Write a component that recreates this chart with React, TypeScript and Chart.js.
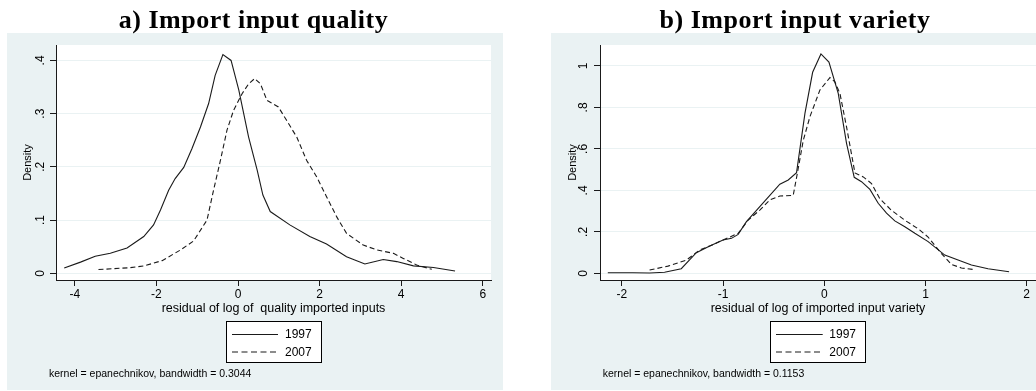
import React, { useEffect, useRef } from "react";
import { Chart, registerables } from "chart.js";

Chart.register(...registerables);

// ---------- data: panel a) import input quality ----------
const qualityX1997 = [-4.26, -3.86, -3.5, -3.13, -2.72, -2.31, -2.07, -1.9, -1.7, -1.54, -1.33, -1.13, -0.92, -0.72, -0.56, -0.37, -0.17, 0.02, 0.26, 0.47, 0.61, 0.79, 1.27, 1.76, 2.17, 2.66, 3.11, 3.56, 3.89, 4.3, 4.79, 5.32];
const qualityY1997 = [0.01, 0.021, 0.032, 0.0375, 0.0475, 0.069, 0.091, 0.119, 0.156, 0.178, 0.199, 0.234, 0.275, 0.319, 0.372, 0.411, 0.4, 0.344, 0.256, 0.194, 0.147, 0.116, 0.091, 0.069, 0.055, 0.031, 0.0175, 0.026, 0.022, 0.014, 0.011, 0.0044];
const qualityX2007 = [-3.42, -2.64, -2.31, -1.86, -1.41, -1.09, -0.76, -0.6, -0.43, -0.27, -0.11, 0.1, 0.26, 0.41, 0.55, 0.71, 0.99, 1.19, 1.44, 1.68, 1.93, 2.17, 2.42, 2.66, 3.07, 3.4, 3.81, 4.05, 4.38, 4.75];
const qualityY2007 = [0.007, 0.0106, 0.0138, 0.0238, 0.0438, 0.0606, 0.1, 0.156, 0.2125, 0.269, 0.306, 0.3375, 0.356, 0.366, 0.356, 0.325, 0.3125, 0.2875, 0.256, 0.2125, 0.181, 0.144, 0.106, 0.075, 0.053, 0.044, 0.0375, 0.028, 0.0156, 0.0075];
const qualityXTicks = [-4, -2, 0, 2, 4, 6];
const qualityXTickLabels = ["-4", "-2", "0", "2", "4", "6"];
const qualityYTicks = [0, 0.1, 0.2, 0.3, 0.4];
const qualityYTickLabels = ["0", ".1", ".2", ".3", ".4"];

// ---------- data: panel b) import input variety ----------
const varietyX1997 = [-2.139, -1.891, -1.726, -1.578, -1.413, -1.264, -1.132, -1.0, -0.917, -0.851, -0.769, -0.604, -0.439, -0.356, -0.274, -0.191, -0.115, -0.033, 0.046, 0.138, 0.22, 0.296, 0.368, 0.451, 0.533, 0.615, 0.697, 0.796, 0.895, 1.026, 1.191, 1.322, 1.454, 1.618, 1.826];
const varietyY1997 = [0.003, 0.003, 0.0016, 0.005, 0.0225, 0.0997, 0.1318, 0.1608, 0.1688, 0.1881, 0.2492, 0.34, 0.43, 0.45, 0.4855, 0.7717, 0.9695, 1.058, 1.019, 0.868, 0.627, 0.463, 0.442, 0.405, 0.338, 0.29, 0.253, 0.225, 0.193, 0.153, 0.088, 0.064, 0.04, 0.0225, 0.008];
const varietyX2007 = [-1.726, -1.545, -1.363, -1.231, -1.132, -1.0, -0.851, -0.752, -0.637, -0.538, -0.439, -0.307, -0.267, -0.208, -0.142, -0.043, 0.056, 0.105, 0.155, 0.22, 0.303, 0.385, 0.467, 0.549, 0.664, 0.796, 0.928, 1.026, 1.158, 1.257, 1.355, 1.47];
const varietyY2007 = [0.016, 0.035, 0.064, 0.1125, 0.1318, 0.1608, 0.193, 0.257, 0.305, 0.354, 0.373, 0.376, 0.48, 0.64, 0.755, 0.884, 0.944, 0.923, 0.867, 0.706, 0.484, 0.465, 0.433, 0.36, 0.304, 0.256, 0.215, 0.175, 0.095, 0.043, 0.026, 0.019];
const varietyXTicks = [-2, -1, 0, 1, 2];
const varietyXTickLabels = ["-2", "-1", "0", "1", "2"];
const varietyYTicks = [0, 0.2, 0.4, 0.6, 0.8, 1];
const varietyYTickLabels = ["0", ".2", ".4", ".6", ".8", "1"];

const seriesLabels = ["1997", "2007"];

const SANS = '"Liberation Sans", Arial, Helvetica, sans-serif';
const SERIF = '"Liberation Serif", "Times New Roman", serif';
const BG = "#eaf2f3";
const INK = "#1a1a1a";

type PanelCfg = {
  canvasLeft: number;
  title: string;
  titleX: number;
  xTitle: string;
  note: string;
  noteX: number;
  bg: [number, number, number, number];
  padRight: number;
  yWidth: number;
  yTickPad: number;
  yTitlePad: number;
  xMin: number;
  xMax: number;
  yMin: number;
  yMax: number;
  xTicks: number[];
  xTickLabels: string[];
  yTicks: number[];
  yTickLabels: string[];
  s1x: number[];
  s1y: number[];
  s2x: number[];
  s2y: number[];
  legend: { x: number; y: number; w: number; h: number; l0: number; l1: number; tx: number; r1: number; r2: number };
};

const panels: PanelCfg[] = [
  {
    canvasLeft: 0,
    title: "a) Import input quality",
    titleX: 253.5,
    xTitle: "residual of log of  quality imported inputs",
    note: "kernel = epanechnikov, bandwidth = 0.3044",
    noteX: 49,
    bg: [7, 33, 496, 357],
    padRight: 27,
    yWidth: 56,
    yTickPad: 4,
    yTitlePad: 21.4,
    xMin: -4.461,
    xMax: 6.201,
    yMin: -0.0126,
    yMax: 0.429,
    xTicks: qualityXTicks,
    xTickLabels: qualityXTickLabels,
    yTicks: qualityYTicks,
    yTickLabels: qualityYTickLabels,
    s1x: qualityX1997,
    s1y: qualityY1997,
    s2x: qualityX2007,
    s2y: qualityY2007,
    legend: { x: 226.5, y: 321.5, w: 95, h: 41, l0: 232, l1: 278, tx: 285, r1: 334.5, r2: 352 },
  },
  {
    canvasLeft: 518,
    title: "b) Import input variety",
    titleX: 277,
    xTitle: "residual of log of imported input variety",
    note: "kernel = epanechnikov, bandwidth = 0.1153",
    noteX: 84.7,
    bg: [33, 33, 485, 357],
    padRight: 0,
    yWidth: 82,
    yTickPad: 5.5,
    yTitlePad: 48.1,
    xMin: -2.216,
    xMax: 2.092,
    yMin: -0.032,
    yMax: 1.101,
    xTicks: varietyXTicks,
    xTickLabels: varietyXTickLabels,
    yTicks: varietyYTicks,
    yTickLabels: varietyYTickLabels,
    s1x: varietyX1997,
    s1y: varietyY1997,
    s2x: varietyX2007,
    s2y: varietyY2007,
    legend: { x: 252.5, y: 321.5, w: 95, h: 41, l0: 258, l1: 304.7, tx: 311.3, r1: 334.5, r2: 352 },
  },
];

const W = 518;
const H = 391;

function Panel({ cfg }: { cfg: PanelCfg }) {
  const ref = useRef<HTMLCanvasElement | null>(null);

  useEffect(() => {
    if (!ref.current) return;
    const decor = {
      id: "stataDecor",
      beforeDraw(chart: any) {
        const { ctx, chartArea } = chart;
        ctx.save();
        ctx.fillStyle = "#ffffff";
        ctx.fillRect(0, 0, chart.width, chart.height);
        ctx.fillStyle = BG;
        ctx.fillRect(cfg.bg[0], cfg.bg[1], cfg.bg[2], cfg.bg[3]);
        ctx.fillStyle = "#ffffff";
        ctx.fillRect(chartArea.left, chartArea.top, chartArea.right - chartArea.left, chartArea.bottom - chartArea.top);
        ctx.restore();
      },
      afterDraw(chart: any) {
        const { ctx } = chart;
        ctx.save();
        // title
        ctx.fillStyle = "#000";
        ctx.font = `bold 26px ${SERIF}`;
        try { (ctx as any).letterSpacing = "0.5px"; } catch (e) {}
        ctx.textAlign = "center";
        ctx.textBaseline = "alphabetic";
        ctx.fillText(cfg.title, cfg.titleX, 27.5);
        try { (ctx as any).letterSpacing = "0px"; } catch (e) {}
        // legend
        const L = cfg.legend;
        ctx.strokeStyle = "#000";
        ctx.lineWidth = 1;
        ctx.setLineDash([]);
        ctx.fillStyle = "#fff";
        ctx.fillRect(L.x, L.y, L.w, L.h);
        ctx.strokeRect(L.x, L.y, L.w, L.h);
        const rows = [L.r1, L.r2];
        chart.data.datasets.forEach((ds: any, i: number) => {
          ctx.strokeStyle = ds.borderColor;
          ctx.lineWidth = ds.borderWidth;
          ctx.setLineDash(ds.borderDash && ds.borderDash.length ? [6, 3.5] : []);
          ctx.beginPath();
          ctx.moveTo(L.l0, rows[i]);
          ctx.lineTo(L.l1, rows[i]);
          ctx.stroke();
          ctx.setLineDash([]);
          ctx.fillStyle = "#000";
          ctx.font = `12px ${SANS}`;
          ctx.textAlign = "left";
          ctx.textBaseline = "middle";
          ctx.fillText(ds.label, L.tx, rows[i] + 0.5);
        });
        // note
        ctx.fillStyle = "#000";
        ctx.font = `10.5px ${SANS}`;
        ctx.textAlign = "left";
        ctx.textBaseline = "middle";
        ctx.fillText(cfg.note, cfg.noteX, 374);
        ctx.restore();
      },
    };

    const chart = new Chart(ref.current, {
      type: "line",
      data: {
        datasets: [
          {
            label: seriesLabels[0],
            data: cfg.s1x.map((x, i) => ({ x, y: cfg.s1y[i] })),
            borderColor: INK,
            borderWidth: 1.1,
            pointRadius: 0,
            tension: 0,
            fill: false,
          },
          {
            label: seriesLabels[1],
            data: cfg.s2x.map((x, i) => ({ x, y: cfg.s2y[i] })),
            borderColor: INK,
            borderWidth: 1.1,
            borderDash: [5, 3],
            pointRadius: 0,
            tension: 0,
            fill: false,
          },
        ],
      },
      options: {
        responsive: false,
        animation: false,
        devicePixelRatio: 1,
        layout: { padding: { top: 45, right: cfg.padRight, bottom: 75, left: 0 } },
        plugins: {
          legend: { display: false },
          title: { display: false },
          tooltip: { enabled: false },
        },
        scales: {
          x: {
            type: "linear",
            min: cfg.xMin,
            max: cfg.xMax,
            afterBuildTicks: (s: any) => {
              s.ticks = cfg.xTicks.map((v) => ({ value: v }));
            },
            afterFit: (s: any) => {
              s.height = 36;
            },
            ticks: {
              callback: (v: any) => cfg.xTickLabels[cfg.xTicks.indexOf(v)],
              maxRotation: 0,
              minRotation: 0,
              padding: 1.5,
              color: "#000",
              font: { family: SANS, size: 12 },
            },
            grid: { drawOnChartArea: false, drawTicks: true, tickLength: 6, tickColor: INK, tickWidth: 1 },
            border: { display: true, color: INK, width: 1 },
            title: {
              display: true,
              text: cfg.xTitle,
              color: "#000",
              font: { family: SANS, size: 12.5 },
              padding: { top: 0, bottom: 0 },
            },
          },
          y: {
            type: "linear",
            min: cfg.yMin,
            max: cfg.yMax,
            afterBuildTicks: (s: any) => {
              s.ticks = cfg.yTicks.map((v) => ({ value: v }));
            },
            afterFit: (s: any) => {
              s.width = cfg.yWidth;
            },
            ticks: {
              callback: (v: any) => cfg.yTickLabels[cfg.yTicks.indexOf(v)],
              minRotation: 90,
              maxRotation: 90,
              crossAlign: "center",
              padding: cfg.yTickPad,
              color: "#000",
              font: { family: SANS, size: 12 },
            },
            grid: { color: BG, lineWidth: 1, drawTicks: true, tickLength: 6, tickColor: INK, tickWidth: 1 },
            border: { display: true, color: INK, width: 1 },
            title: {
              display: true,
              text: "Density",
              color: "#000",
              font: { family: SANS, size: 11 },
              padding: { top: cfg.yTitlePad, bottom: 0 },
            },
          },
        },
      } as any,
      plugins: [decor],
    });
    return () => chart.destroy();
  }, [cfg]);

  return (
    <canvas
      ref={ref}
      width={W}
      height={H}
      style={{ position: "absolute", left: cfg.canvasLeft, top: 0, width: W, height: H, display: "block" }}
    />
  );
}

export default function App() {
  return (
    <div style={{ position: "fixed", left: 0, top: 0, width: 1036, height: 391, background: "#fff", overflow: "hidden" }}>
      {panels.map((p) => (
        <Panel key={p.title} cfg={p} />
      ))}
    </div>
  );
}
